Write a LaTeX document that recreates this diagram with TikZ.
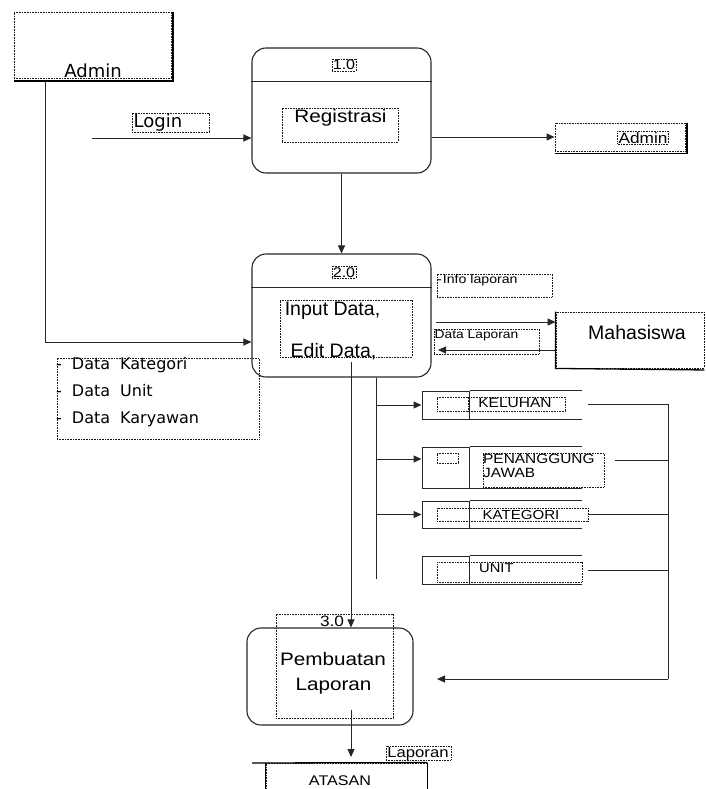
\documentclass[tikz,border=0pt]{standalone}
\usepackage{fontspec}
\setmainfont{Liberation Sans}
\newfontfamily\dvs{DejaVu Sans}
\newfontfamily\wide[FakeStretch=1.15]{Liberation Sans}
\usetikzlibrary{arrows.meta}
\tikzset{
  ln/.style={line width=1pt, draw=black!85},
  arr/.style={ln, -{Triangle[length=8pt,width=7pt]}},
  solidln/.style={line width=1.3pt, draw=black},
  proc/.style={draw=black!85, line width=1.1pt, rounded corners=14pt, inner sep=0pt},
  dbox/.style={draw=black!90, dash pattern=on 0.8pt off 0.8pt, line width=0.9pt, inner sep=0pt},
  idbox/.style={draw=black!90, dash pattern=on 0.8pt off 0.8pt, line width=0.8pt, inner sep=0.8pt},
  txt/.style={inner sep=0pt, anchor=base},
  big/.style={font=\fontsize{19.5}{22}\selectfont},
  bigw/.style={font=\wide\fontsize{18}{21}\selectfont},
  storebox/.style={draw=black!85, line width=1pt, inner sep=0pt, minimum width=47pt},
}
\begin{document}
\begin{tikzpicture}[x=1pt,y=-1pt]
\useasboundingbox (0,0) rectangle (705,789);

% ---------- Admin (top left) ----------
\node[dbox, minimum width=157pt, minimum height=66pt] (adm) at (92.5,45) {};
\draw[solidln] ([xshift=1.5pt]adm.north east) -- ([xshift=1.5pt,yshift=-2.5pt]adm.south east) -- ([yshift=-2.5pt]adm.south west);
\node[txt, font=\dvs\fontsize{18}{20}\selectfont] (admt) at (93,78) {Admin};

% ---------- Login ----------
\node[dbox, minimum width=77pt, minimum height=19pt] (loginbox) at (170.5,122.5) {};
\node[txt, font=\dvs\fontsize{18}{20}\selectfont] (login) at (158,128) {Login};

% ---------- Process 1.0 ----------
\node[proc, minimum width=179pt, minimum height=125pt] (p1) at (341.5,110.5) {};
\coordinate (p1div) at (0,82);
\draw[ln] (p1.west |- p1div) -- (p1.east |- p1div);
\node[txt, idbox, font=\wide\fontsize{14}{16}\selectfont] (p1id) at (344,70) {1.0};
\node[dbox, minimum width=116pt, minimum height=34pt] (regbox) at (340,125) {};
\node[txt, bigw] (reg) at (340.5,123) {Registrasi};

\coordinate (loginsrc) at (92,138);
\draw[arr] (loginsrc) -- (loginsrc -| p1.west);

% ---------- Admin (right) ----------
\node[dbox, minimum width=130pt, minimum height=28pt] (adr) at (620,137) {};
\draw[solidln] ([xshift=1.5pt]adr.north east) -- ([xshift=1.5pt,yshift=-2pt]adr.south east) -- ([yshift=-2pt]adr.south west);
\node[txt, idbox, font=\wide\fontsize{15}{17}\selectfont] (adrt) at (643,143) {Admin};
\draw[arr] (p1.east |- adr) -- (adr.west);

% ---------- Process 2.0 ----------
\node[proc, minimum width=179pt, minimum height=123pt] (p2) at (341.5,315.5) {};
\coordinate (p2div) at (0,287);
\draw[ln] (p2.west |- p2div) -- (p2.east |- p2div);
\node[txt, idbox, font=\wide\fontsize{14}{16}\selectfont] (p2id) at (344,277) {2.0};
\node[dbox, minimum width=132pt, minimum height=57pt] (edbox) at (346,328.5) {};
\node[txt, big] (inp) at (332.5,315) {Input Data,};
\node[txt, big] (edt) at (333.5,357) {Edit Data,};

\draw[arr] (p1.south) -- (p2.north);

\coordinate (admx) at (45,0);
\coordinate (p2in) at (0,342);
\draw[arr] ([yshift=-2.5pt]adm.south -| admx) |- (p2.west |- p2in);

% ---------- Info laporan ----------
\node[dbox, minimum width=115pt, minimum height=23pt] (infobox) at (494.5,285.5) {};
\node[txt, anchor=base west, font=\wide\fontsize{12.3}{14}\selectfont] (info) at (437,283) {-\hspace{1pt}Info laporan};

% ---------- Mahasiswa ----------
\node[dbox, minimum width=148pt, minimum height=56pt] (mhs) at (630,340) {};
\draw[solidln] (mhs.north west) -- (mhs.south west) -- ([yshift=-1.5pt]mhs.south east);
\node[txt, big] (mhst) at (637,339) {Mahasiswa};

\node[dbox, minimum width=105pt, minimum height=25pt] (dlbox) at (486.5,341.5) {};
\node[txt, font=\wide\fontsize{12}{14}\selectfont] (dl) at (476.5,338) {Data Laporan};

\coordinate (y322) at (0,322);
\coordinate (y350) at (0,350);
\coordinate (dlend) at (438,350);
\draw[arr] ([xshift=4pt]p2.east |- y322) -- (mhs.west |- y322);
\draw[arr] (mhs.west |- y350) -- (dlend);

% ---------- List ----------
\node[dbox, minimum width=202pt, minimum height=81pt] (lst) at (158,398.5) {};
\node[txt, anchor=base west, font=\dvs\fontsize{16}{18}\selectfont] (l1) at (56,369) {-\hspace{10pt}Data\hspace{10pt}Kategori};
\node[txt, anchor=base west, font=\dvs\fontsize{16}{18}\selectfont] (l2) at (56,396) {-\hspace{10pt}Data\hspace{10pt}Unit};
\node[txt, anchor=base west, font=\dvs\fontsize{16}{18}\selectfont] (l3) at (56,423) {-\hspace{10pt}Data\hspace{10pt}Karyawan};

% ---------- Data stores ----------
\coordinate (send) at (582,0);
\node[storebox, minimum height=28pt] (s1) at (445.5,405) {};
\node[storebox, minimum height=41pt] (s2) at (445.5,467.5) {};
\node[storebox, minimum height=27pt] (s3) at (445.5,514.5) {};
\node[storebox, minimum height=28pt] (s4) at (445.5,570) {};
\foreach \s in {s1,s2,s3,s4}{
  \draw[ln] (\s.north east) -- (\s.north east -| send);
  \draw[ln] (\s.south east) -- (\s.south east -| send);
}
\node[dbox, minimum width=31pt, minimum height=14pt] (s1a) at (452.5,404) {};
\node[dbox, minimum width=96pt, minimum height=14pt] (s1l) at (517,404) {};
\node[txt, font=\wide\fontsize{13.5}{15}\selectfont] (s1t) at (515,407) {KELUHAN};

\node[dbox, minimum width=21pt, minimum height=10pt] (s2a) at (447.5,458) {};
\node[dbox, minimum width=121pt, minimum height=34pt] (s2l) at (543.5,470) {};
\node[txt, anchor=base west, font=\wide\fontsize{13.4}{15}\selectfont] (s2t) at (483,463) {PENANGGUNG};
\node[txt, anchor=base west, font=\wide\fontsize{13.4}{15}\selectfont] (s2u) at (483,477) {JAWAB};

\node[dbox, minimum width=151pt, minimum height=13pt] (s3l) at (512.5,514.5) {};
\node[txt, font=\wide\fontsize{13.1}{15}\selectfont] (s3t) at (521,519) {KATEGORI};

\node[dbox, minimum width=145pt, minimum height=20pt] (s4l) at (509.5,572) {};
\node[txt, anchor=base west, font=\wide\fontsize{12.8}{15}\selectfont] (s4t) at (479,572) {UNIT};

% bus from 2.0 to stores
\coordinate (busx) at (376,0);
\coordinate (busend) at (376,579);
\coordinate (y459) at (0,459);
\draw[ln] (p2.south -| busx) -- (busend);
\draw[arr] (busx |- s1) -- (s1.west);
\draw[arr] (busx |- y459) -- (s2.west |- y459);
\draw[arr] (busx |- s3) -- (s3.west);

% ---------- Process 3.0 ----------
\node[proc, minimum width=166pt, minimum height=97pt] (p3) at (330,676.5) {};
\node[dbox, minimum width=117pt, minimum height=104pt] (p3box) at (334.5,666) {};
\node[txt, font=\wide\fontsize{15}{17}\selectfont] (p3id) at (332,626) {3.0};
\node[txt, bigw] (pb1) at (333,665) {Pembuatan};
\node[txt, bigw] (pb2) at (333.5,690) {Laporan};

\coordinate (x351) at (351,0);
\coordinate (p2out) at (351,362);
\draw[arr] (p2out) -- (p3.north -| x351);

% right collector from stores to 3.0
\coordinate (rbx) at (668,0);
\coordinate (r1) at (588,404);
\coordinate (r2) at (615,460);
\coordinate (r3) at (588,514.5);
\coordinate (r4) at (588,570);
\coordinate (rbbot) at (668,679);
\coordinate (p3in) at (437,679);
\draw[ln] (r1) -- (r1 -| rbx);
\draw[ln] (r2) -- (r2 -| rbx);
\draw[ln] (r3) -- (r3 -| rbx);
\draw[ln] (r4) -- (r4 -| rbx);
\draw[ln] (r1 -| rbx) -- (rbbot);
\draw[arr] (rbbot) -- (p3in);

% ---------- ATASAN ----------
\node[dbox, minimum width=161pt, minimum height=26pt] (at) at (346.5,776) {};
\coordinate (atl) at (252,763);
\draw[solidln] (atl) -- (at.north east);
\draw[solidln] (at.north west) -- (at.south west);
\draw[solidln] (at.north east) -- (at.south east);
\node[txt, font=\wide\fontsize{14}{16}\selectfont] (att) at (340,785) {ATASAN};

\node[dbox, minimum width=65pt, minimum height=14pt] (lapbox) at (418.5,753) {};
\node[txt, font=\wide\fontsize{14.5}{16}\selectfont] (lap) at (418,757) {Laporan};

\coordinate (p3out) at (351,710);
\coordinate (atin) at (351,757);
\draw[arr] (p3out) -- (atin);
\end{tikzpicture}
\end{document}
